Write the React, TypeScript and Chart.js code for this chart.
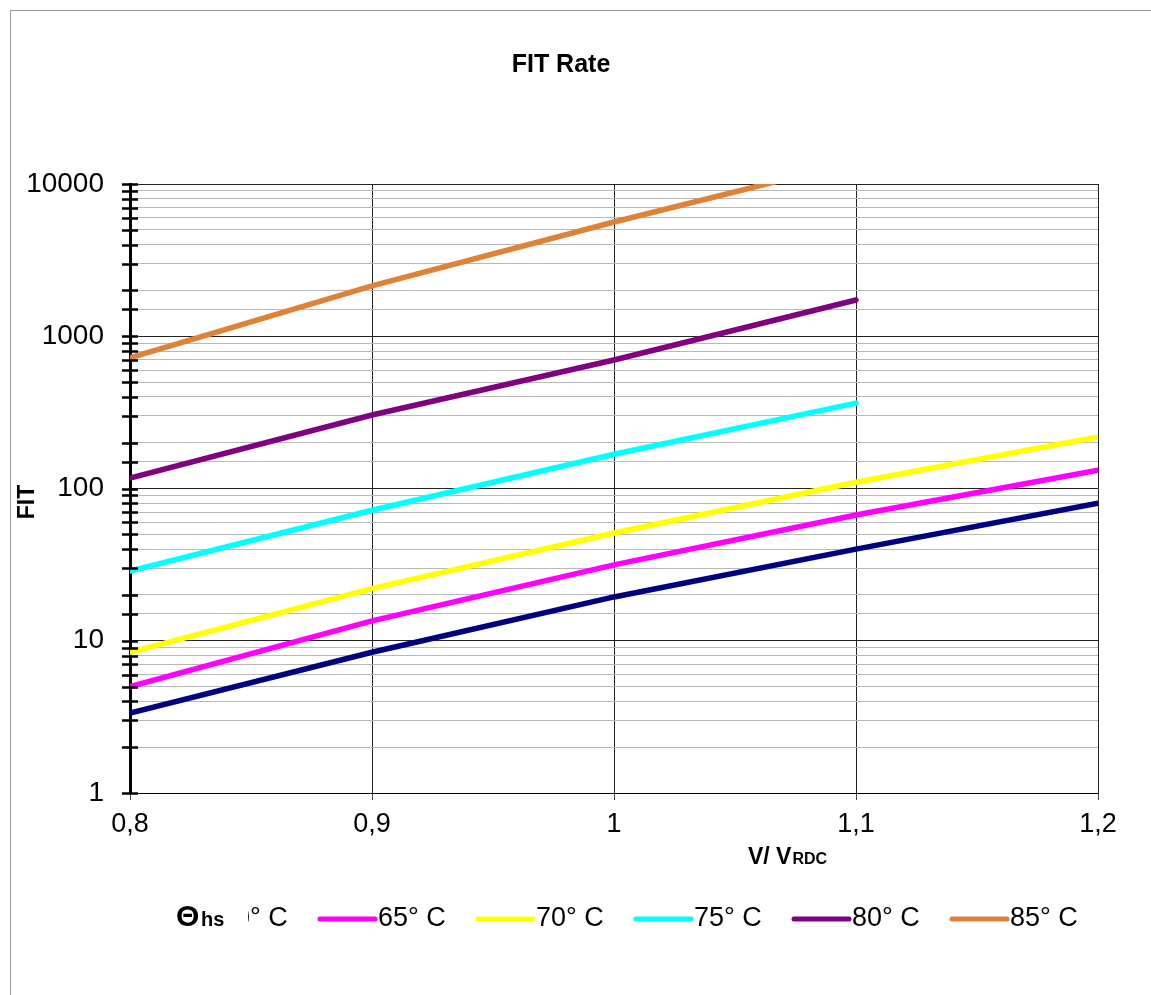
import { useEffect, useRef } from 'react';
import { Chart, registerables } from 'chart.js';

Chart.register(...registerables);

// ---- data ----
const xValues = [0.8, 0.9, 1.0, 1.1, 1.2];
const xTickLabels = ['0,8', '0,9', '1', '1,1', '1,2'];
const yMajorTicks = [1, 10, 100, 1000, 10000];

const fit60 = [3.35, 8.4, 19.4, 40, 80];
const fit65 = [5.0, 13.5, 31.5, 67, 132];
const fit70 = [8.4, 22, 51, 110, 218];
const fit75 = [28.7, 72, 168, 364];
const fit80 = [117, 304, 698, 1730];
const fit85 = [720, 2140, 5630, 14000];

const seriesLabels = ['60° C', '65° C', '70° C', '75° C', '80° C', '85° C'];
const seriesColors = ['#000080', '#FF00FF', '#FFFF00', '#00FFFF', '#800080', '#DF8236'];
const seriesValues = [fit60, fit65, fit70, fit75, fit80, fit85];

const FONT = '"Liberation Sans", Arial, Helvetica, sans-serif';

const isMajor = (v: number) => {
  const l = Math.log10(v);
  return Math.abs(l - Math.round(l)) < 1e-6;
};

const decorPlugin = {
  id: 'decor',
  afterDatasetsDraw(chart: any) {
    const ctx = chart.ctx as CanvasRenderingContext2D;
    const y = chart.scales.y;
    const area = chart.chartArea;
    ctx.save();
    // crossing tick marks on the y axis
    ctx.strokeStyle = '#000';
    ctx.lineWidth = 2.5;
    for (const t of y.ticks) {
      const py = Math.round(y.getPixelForValue(t.value)) + 0.5;
      ctx.beginPath();
      ctx.moveTo(area.left - 8, py);
      ctx.lineTo(area.left + 8, py);
      ctx.stroke();
    }
    ctx.restore();
  },
  afterDraw(chart: any) {
    const ctx = chart.ctx as CanvasRenderingContext2D;
    ctx.save();
    // outer frame
    ctx.strokeStyle = '#9a9a9a';
    ctx.lineWidth = 1;
    ctx.strokeRect(10.5, 10.5, 1300, 1300);

    ctx.fillStyle = '#000';
    // title
    ctx.font = `bold 25px ${FONT}`;
    ctx.textAlign = 'center';
    ctx.textBaseline = 'middle';
    ctx.fillText('FIT Rate', 561, 65);

    // y-axis title
    ctx.save();
    ctx.translate(28, 502);
    ctx.rotate(-Math.PI / 2);
    ctx.font = `bold 23px ${FONT}`;
    ctx.fillText('FIT', 0, 0);
    ctx.restore();

    // x-axis title
    ctx.textAlign = 'left';
    ctx.textBaseline = 'alphabetic';
    ctx.font = `bold 23px ${FONT}`;
    ctx.fillText('V/ V', 748, 864);
    const w = ctx.measureText('V/ V').width;
    ctx.font = `bold 16px ${FONT}`;
    ctx.fillText('RDC', 748 + w + 1, 864);

    // legend
    const ly = 919;
    for (let i = 0; i < seriesLabels.length; i++) {
      const x0 = 162 + i * 158;
      ctx.strokeStyle = seriesColors[i];
      ctx.lineWidth = 5;
      ctx.lineCap = 'round';
      ctx.beginPath();
      ctx.moveTo(x0, ly);
      ctx.lineTo(x0 + 55, ly);
      ctx.stroke();
      ctx.fillStyle = '#000';
      ctx.font = `27px ${FONT}`;
      ctx.textBaseline = 'middle';
      ctx.fillText(seriesLabels[i], x0 + 58, ly);
    }
    // legend title box covering the first entry
    ctx.fillStyle = '#fff';
    ctx.fillRect(150, 895, 98, 45);
    ctx.fillStyle = '#000';
    ctx.textBaseline = 'alphabetic';
    ctx.font = `bold 30px ${FONT}`;
    ctx.fillText('Θ', 176, 926);
    ctx.font = `bold 20px ${FONT}`;
    ctx.fillText('hs', 201, 926);
    ctx.restore();
  },
};

export default function App() {
  const ref = useRef<HTMLCanvasElement>(null);
  useEffect(() => {
    Chart.defaults.font.family = FONT;
    const chart = new Chart(ref.current!, {
      type: 'line',
      data: {
        datasets: seriesValues.map((vals, i) => ({
          label: seriesLabels[i],
          data: vals.map((v, j) => ({ x: xValues[j], y: v })),
          borderColor: seriesColors[i],
          backgroundColor: seriesColors[i],
          borderWidth: 5.5,
          borderCapStyle: 'round',
          pointRadius: 0,
          tension: 0,
          fill: false,
        })),
      },
      options: {
        responsive: false,
        animation: false,
        devicePixelRatio: 1,
        layout: { padding: { left: 0, right: 53, top: 184, bottom: 142 } },
        plugins: {
          legend: { display: false },
          title: { display: false },
          tooltip: { enabled: false },
        },
        scales: {
          x: {
            type: 'linear',
            min: 0.8,
            max: 1.2,
            afterFit: (s: any) => { s.height = 60; },
            border: { display: true, color: '#000', width: 1 },
            grid: {
              color: '#222',
              lineWidth: 1,
              drawTicks: true,
              tickLength: 7,
              tickColor: '#444',
            },
            ticks: {
              stepSize: 0.1,
              padding: 8,
              color: '#000',
              font: { size: 27, family: FONT },
              maxRotation: 0,
              callback: (v: any) => {
                const idx = xValues.findIndex((x) => Math.abs(x - Number(v)) < 1e-6);
                return idx >= 0 ? xTickLabels[idx] : '';
              },
            },
          },
          y: {
            type: 'logarithmic',
            min: 1,
            max: 10000,
            afterFit: (s: any) => { s.width = 130; },
            border: { display: true, color: '#000', width: 3 },
            grid: {
              drawTicks: false,
              lineWidth: 1,
              color: (c: any) => (c.tick && isMajor(c.tick.value) ? '#222' : '#b8b8b8'),
            },
            ticks: {
              autoSkip: false,
              padding: 26,
              color: '#000',
              font: { size: 28, family: FONT },
              callback: (v: any) => {
                const n = Number(v);
                const m = yMajorTicks.find((t) => Math.abs(t - n) < 1e-6);
                return m !== undefined ? String(m) : '';
              },
            },
          },
        },
      },
      plugins: [decorPlugin],
    } as any);
    return () => chart.destroy();
  }, []);
  return (
    <div style={{ position: 'absolute', left: 0, top: 0, width: 1151, height: 995, background: '#fff' }}>
      <canvas ref={ref} width={1151} height={995} style={{ display: 'block', width: 1151, height: 995 }} />
    </div>
  );
}
